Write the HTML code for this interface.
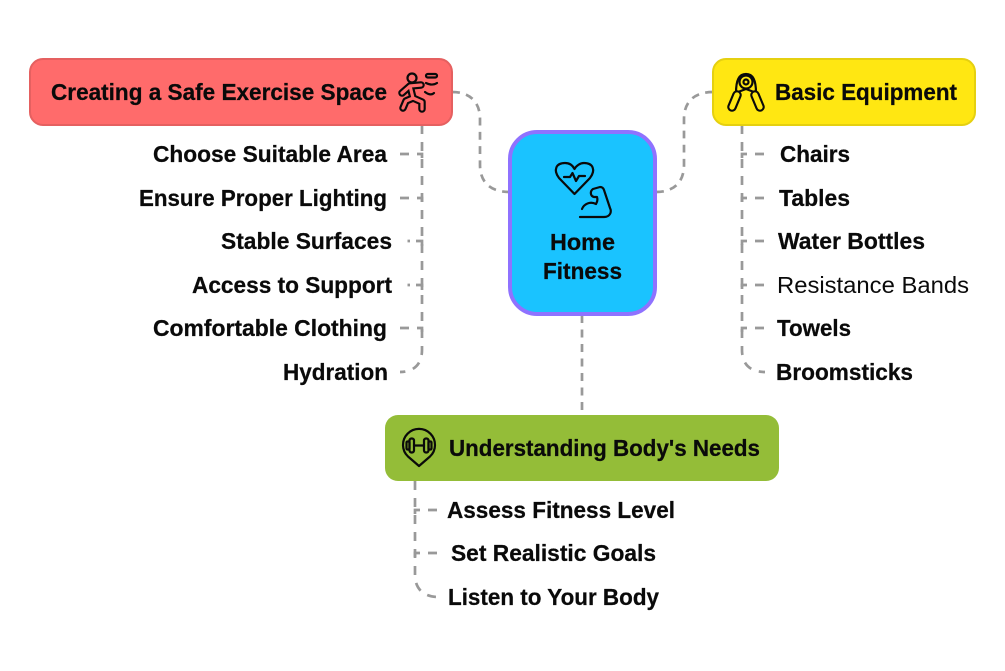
<!DOCTYPE html>
<html><head><meta charset="utf-8"><style>
html,body{margin:0;padding:0;background:#fff;width:1005px;height:671px;overflow:hidden}
svg{display:block}
text{font-family:"Liberation Sans",sans-serif;font-weight:700;font-size:23.5px;fill:#0a0a0a;stroke:#0a0a0a;stroke-width:.25}
.c{fill:none;stroke:#999;stroke-width:2.700;stroke-dasharray:9 8}
.m{fill:none;stroke:#999;stroke-width:2.700;stroke-dasharray:8 6.500}
.s{fill:none;stroke:#999;stroke-width:2.700}
.i{fill:none;stroke:#0a0a0a;stroke-width:2.200;stroke-linecap:round;stroke-linejoin:round}
</style></head><body>
<svg width="1005" height="671" viewBox="0 0 1005 671" xmlns="http://www.w3.org/2000/svg">
<rect width="1005" height="671" fill="#fff"/>
<!-- main connectors -->
<path class="m" pathLength="138.500" d="M452 92 C470 92 480 102 480 119 V165 C480 182 490 192 510 192"/>
<path class="m" pathLength="138.500" d="M656 192 C674 192 684 182 684 165 V119 C684 102 694 92 713 92"/>
<path class="m" d="M582 315 V415"/>
<!-- left tree -->
<path class="c" d="M422 125 V350 C422 364 414 372 400 372"/>
<path class="c" d="M400 154 H422 V159"/>
<path class="c" d="M400 198 H422 V203"/>
<path class="s" d="M416 241 H422 V246 M407.500 241 H410"/>
<path class="s" d="M416 285 H422 V290 M407.500 285 H410"/>
<path class="c" d="M400 328 H422 V333"/>
<!-- right tree -->
<path class="c" d="M742 125 V350 C742 364 750 372 765 372"/>
<path class="c" d="M764 154 H742 V159"/>
<path class="c" d="M764 198 H742 V203"/>
<path class="c" d="M764 241 H742 V246"/>
<path class="c" d="M764 285 H742 V290"/>
<path class="c" d="M764 328 H742 V333"/>
<!-- bottom tree -->
<path class="c" d="M415 481 V575 C415 589 424 597 438 597"/>
<path class="c" d="M437 510 H415 V515"/>
<path class="c" d="M437 553 H415 V558"/>
<!-- nodes -->
<rect x="30" y="59" width="422" height="66" rx="13" fill="#ff6b6b" stroke="#e56060" stroke-width="2"/>
<rect x="713" y="59" width="262" height="66" rx="13" fill="#ffe712" stroke="#e5d010" stroke-width="2"/>
<rect x="385" y="415" width="394" height="66" rx="13" fill="#94bd38"/>
<rect x="510" y="132" width="145" height="182" rx="27" fill="#1ac3ff" stroke="#8f72ff" stroke-width="4"/>
<!-- heart and arm icon -->
<path class="i" d="M574.500 194 L559 178 C553 170 556 163 565 163 C570 163 573 166 574.500 169 C576 166 580 163 584 163 C593 163 596 170 590 178 Z"/>
<path class="i" d="M564 177 H570 L572.500 173 L576 181 L579 176 H585"/>
<path class="i" d="M580 217 H604 C610 217 612 212 610 208 L604 190 Q603 187 600 187 L593 189 C590 191 590 196 594 197 L597 197 C598 200 597 202 596 204 C590 201 584 204 582 209"/>
<!-- runner icon -->
<g>
<circle class="i" cx="412" cy="78" r="4.500"/>
<path d="M402 93 L410 86 L421 85 M410 86 L413 98 L406 101 L403 108 M413 98 L422 102 L422 109" fill="none" stroke="#0a0a0a" stroke-width="7.500" stroke-linecap="round" stroke-linejoin="round"/>
<path d="M402 93 L410 86 L421 85 M410 86 L413 98 L406 101 L403 108 M413 98 L422 102 L422 109" fill="none" stroke="#ff6b6b" stroke-width="3.200" stroke-linecap="round" stroke-linejoin="round"/>
<rect class="i" x="426" y="74" width="11" height="3.500" rx="1.700"/>
<path class="i" d="M426 83 C430 85 434 85 437 83 M425 92 C429 95 432 95 434 93"/>
</g>
<!-- gripper icon -->
<g>
<path class="i" d="M736 93 C736 80 739 74 746 74 C753 74 756 80 756 93"/>
<circle class="i" cx="746" cy="82" r="6.500"/>
<circle class="i" cx="746" cy="82" r="2.500"/>
<path class="i" d="M738 92 L746 89 L754 92"/>
<path d="M737 95 L732 107 M755 95 L760 107" fill="none" stroke="#0a0a0a" stroke-width="9.500" stroke-linecap="round"/>
<path d="M737 95 L732 107 M755 95 L760 107" fill="none" stroke="#ffe712" stroke-width="5.300" stroke-linecap="round"/>
</g>
<!-- pin dumbbell icon -->
<g>
<path class="i" d="M419 466 L408 456.500 A16 16 0 1 1 430 456.500 Z"/>
<rect class="i" x="406.500" y="441.500" width="3" height="8" rx="1"/>
<rect class="i" x="409.500" y="438.500" width="4.500" height="14" rx="2"/>
<rect class="i" x="424" y="438.500" width="4.500" height="14" rx="2"/>
<rect class="i" x="428.500" y="441.500" width="3" height="8" rx="1"/>
<path class="i" d="M414 445.500 H424"/>
</g>
<!-- node labels -->
<text x="51" y="100" textLength="336" lengthAdjust="spacingAndGlyphs">Creating a Safe Exercise Space</text>
<text x="775" y="100" textLength="182" lengthAdjust="spacingAndGlyphs">Basic Equipment</text>
<text x="449" y="456" textLength="311" lengthAdjust="spacingAndGlyphs">Understanding Body's Needs</text>
<text x="550" y="250" textLength="65" lengthAdjust="spacingAndGlyphs">Home</text>
<text x="543" y="279" textLength="79" lengthAdjust="spacingAndGlyphs">Fitness</text>
<!-- left items -->
<text x="153" y="162" textLength="234" lengthAdjust="spacingAndGlyphs">Choose Suitable Area</text>
<text x="139" y="206" textLength="248" lengthAdjust="spacingAndGlyphs">Ensure Proper Lighting</text>
<text x="221" y="249" textLength="171" lengthAdjust="spacingAndGlyphs">Stable Surfaces</text>
<text x="192" y="293" textLength="200" lengthAdjust="spacingAndGlyphs">Access to Support</text>
<text x="153" y="336" textLength="234" lengthAdjust="spacingAndGlyphs">Comfortable Clothing</text>
<text x="283" y="380" textLength="105" lengthAdjust="spacingAndGlyphs">Hydration</text>
<!-- right items -->
<text x="780" y="162" textLength="70" lengthAdjust="spacingAndGlyphs">Chairs</text>
<text x="779" y="206" textLength="71" lengthAdjust="spacingAndGlyphs">Tables</text>
<text x="778" y="249" textLength="147" lengthAdjust="spacingAndGlyphs">Water Bottles</text>
<text x="777" y="293" textLength="192" lengthAdjust="spacingAndGlyphs" style="font-weight:400;stroke-width:0">Resistance Bands</text>
<text x="777" y="336" textLength="74" lengthAdjust="spacingAndGlyphs">Towels</text>
<text x="776" y="380" textLength="137" lengthAdjust="spacingAndGlyphs">Broomsticks</text>
<!-- bottom items -->
<text x="447" y="518" textLength="228" lengthAdjust="spacingAndGlyphs">Assess Fitness Level</text>
<text x="451" y="561" textLength="205" lengthAdjust="spacingAndGlyphs">Set Realistic Goals</text>
<text x="448" y="605" textLength="211" lengthAdjust="spacingAndGlyphs">Listen to Your Body</text>
</svg>
</body></html>
